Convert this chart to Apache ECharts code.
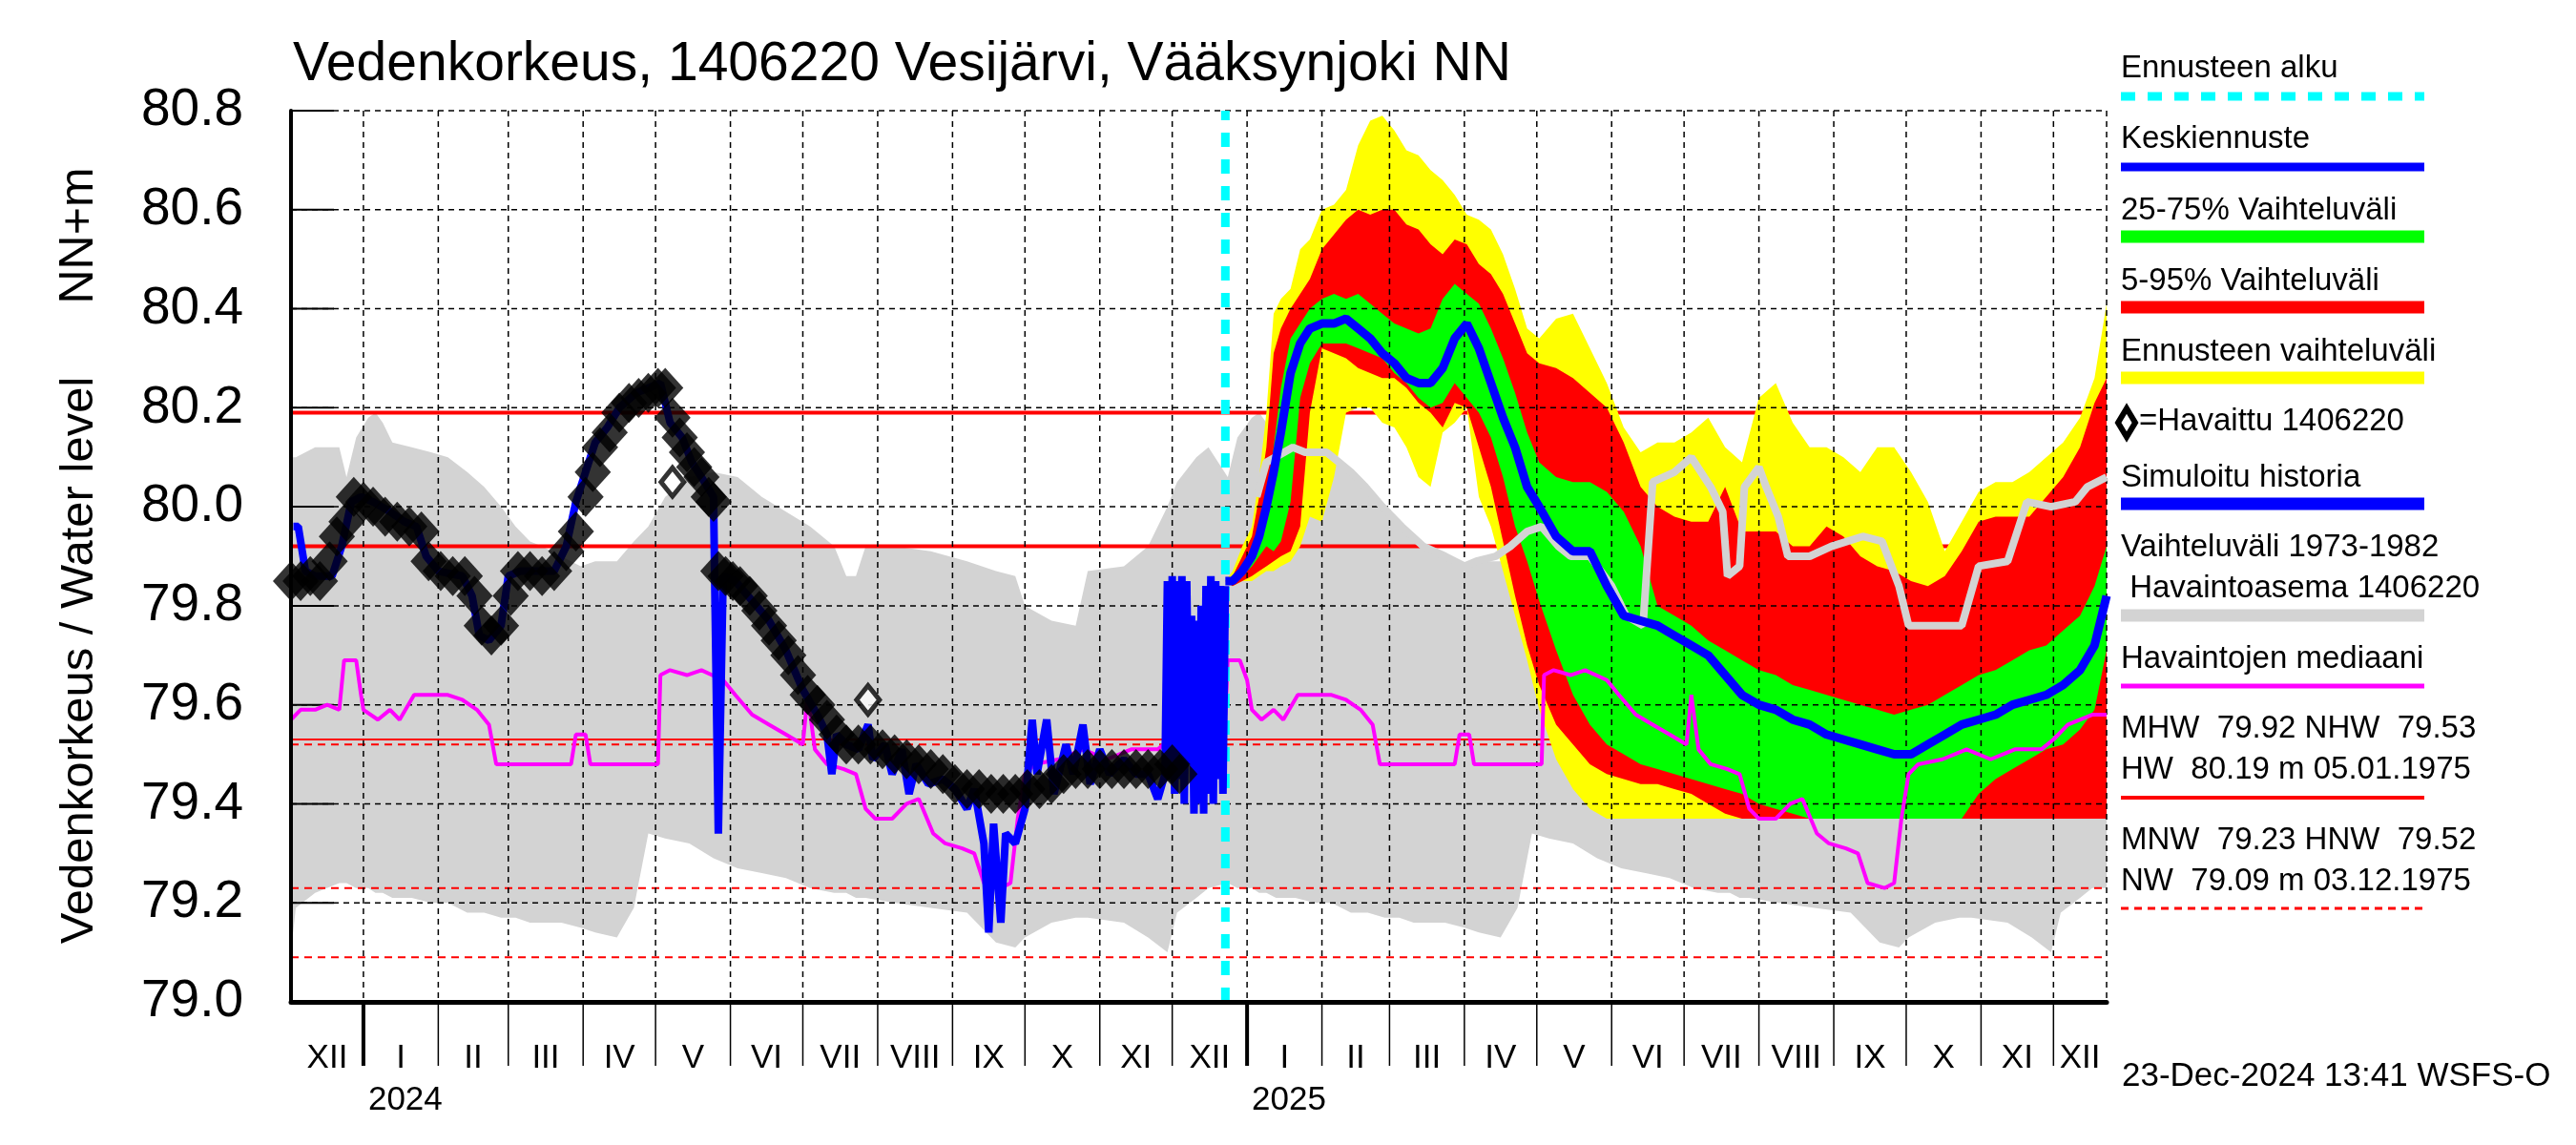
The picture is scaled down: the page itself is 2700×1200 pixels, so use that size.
<!DOCTYPE html>
<html><head><meta charset="utf-8">
<script src="https://cdn.jsdelivr.net/npm/echarts@6/dist/echarts.min.js"></script>
<style>html,body{margin:0;padding:0;background:#fff}#c{width:2700px;height:1200px}</style>
</head><body><div id="c"></div>
<script>
const FONT = '"Liberation Sans", Arial, Helvetica, sans-serif';
// All day numbers are days counted from 2024-01-01
const startDay = -30, endDay = 722, forecastDay = 357;
const yTicks = [79.0, 79.2, 79.4, 79.6, 79.8, 80.0, 80.2, 80.4, 80.6, 80.8];
const monthLabels = ['XII','I','II','III','IV','V','VI','VII','VIII','IX','X','XI','XII','I','II','III','IV','V','VI','VII','VIII','IX','X','XI','XII'];
const yearLabels = ['2024','2025'];

// Observed water level (Havaittu 1406220)
const obsDays = [-30,-26,-22,-18,-14,-11,-7,-4,0,4,9,14,19,24,27,32,37,42,46,49,53,57,61,64,69,74,79,84,88,92,95,98,102,106,110,114,118,122,125,128,131,134,137,140,143,145,147,150,153,156,160,164,168,172,176,180,184,188,192,196,200,205,210,215,220,225,230,235,240,245,250,255,260,265,270,275,280,285,290,295,300,305,310,315,320,325,330,335,338];
const obsVals = [79.85,79.85,79.86,79.85,79.89,79.94,79.97,80.02,80.01,80.00,79.98,79.97,79.96,79.95,79.89,79.87,79.86,79.86,79.82,79.76,79.74,79.76,79.82,79.87,79.87,79.86,79.87,79.91,79.95,80.02,80.07,80.12,80.15,80.19,80.21,80.22,80.23,80.24,80.24,80.18,80.14,80.11,80.08,80.06,80.02,80.01,79.87,79.86,79.85,79.84,79.82,79.79,79.76,79.73,79.70,79.66,79.62,79.60,79.57,79.54,79.52,79.52,79.52,79.51,79.50,79.49,79.48,79.47,79.46,79.44,79.43,79.43,79.42,79.42,79.42,79.43,79.43,79.44,79.46,79.47,79.47,79.47,79.47,79.47,79.47,79.47,79.47,79.48,79.46];
const obsOpenDays = [128, 209];
const obsOpenVals = [80.05, 79.61];

// Simulated history (Simuloitu historia)
const simDays = [-29,-27,-24,-20,-13,-9,-5,-1,4,11,17,22,26,31,41,45,48,52,57,60,65,79,84,88,92,96,101,106,113,123,127,132,136,140,145,147,149,154,161,168,175,182,188,192,194,196,200,205,209,211,216,219,223,226,229,234,240,245,250,253,257,259,261,264,266,270,274,277,279,283,286,291,294,298,301,305,309,315,320,325,329,332,333,334,335,336,337,338,339,340,341,342,343,344,345,346,347,348,349,350,351,352,353,354,355,356,357];
const simVals = [79.96,79.96,79.87,79.86,79.86,79.92,80.01,80.02,80.01,79.99,79.97,79.96,79.90,79.87,79.86,79.82,79.74,79.73,79.76,79.86,79.87,79.87,79.92,80.01,80.07,80.13,80.16,80.20,80.23,80.25,80.17,80.14,80.09,80.06,80.02,79.34,79.86,79.85,79.81,79.77,79.71,79.63,79.58,79.54,79.46,79.54,79.52,79.51,79.56,79.49,79.52,79.46,79.51,79.42,79.48,79.44,79.45,79.43,79.39,79.43,79.32,79.14,79.36,79.16,79.34,79.32,79.39,79.57,79.46,79.57,79.42,79.52,79.46,79.56,79.44,79.51,79.46,79.49,79.46,79.46,79.41,79.46,79.85,79.45,79.86,79.42,79.85,79.45,79.86,79.40,79.85,79.48,79.78,79.38,79.77,79.40,79.80,79.38,79.84,79.42,79.86,79.40,79.85,79.45,79.84,79.42,79.84,79.84];

// Forecast
const fcDays = [357,360,364,368,371,374,377,380,384,388,392,397,402,407,412,417,422,427,432,437,442,447,452,457,462,467,472,477,482,487,494,501,508,515,522,529,536,543,550,557,564,571,578,585,592,599,606,613,620,627,634,641,648,655,662,669,676,683,690,697,704,711,717,722];
const fcMax = [79.85,79.87,79.92,79.96,80.06,80.19,80.39,80.42,80.44,80.52,80.54,80.60,80.61,80.64,80.73,80.78,80.79,80.76,80.72,80.71,80.68,80.66,80.63,80.59,80.58,80.56,80.51,80.44,80.36,80.34,80.38,80.39,80.32,80.25,80.16,80.11,80.13,80.13,80.15,80.18,80.12,80.09,80.22,80.25,80.17,80.12,80.12,80.10,80.07,80.12,80.12,80.07,80.01,79.91,79.97,80.03,80.05,80.05,80.07,80.10,80.13,80.18,80.26,80.41];
const fcP95 = [79.85,79.86,79.90,79.94,80.02,80.12,80.31,80.36,80.40,80.43,80.46,80.52,80.55,80.58,80.60,80.59,80.60,80.60,80.57,80.56,80.53,80.51,80.54,80.53,80.49,80.47,80.43,80.37,80.31,80.29,80.28,80.26,80.23,80.20,80.13,80.04,80.00,79.98,79.97,79.97,80.04,79.95,79.95,79.95,79.92,79.92,79.96,79.94,79.90,79.88,79.87,79.85,79.84,79.86,79.91,79.97,79.98,79.98,79.98,80.02,80.06,80.12,80.21,80.26];
const fcP75 = [79.85,79.86,79.88,79.92,79.96,80.02,80.12,80.24,80.34,80.37,80.40,80.42,80.43,80.42,80.43,80.41,80.39,80.37,80.36,80.35,80.36,80.42,80.45,80.43,80.41,80.36,80.30,80.23,80.15,80.09,80.06,80.05,80.05,80.03,79.99,79.92,79.80,79.78,79.76,79.73,79.71,79.69,79.67,79.66,79.64,79.63,79.62,79.61,79.60,79.59,79.58,79.59,79.60,79.62,79.64,79.66,79.67,79.69,79.71,79.72,79.75,79.78,79.84,79.92];
const fcMed = [79.85,79.85,79.87,79.90,79.94,80.00,80.07,80.15,80.27,80.33,80.36,80.37,80.37,80.38,80.36,80.34,80.31,80.29,80.26,80.25,80.25,80.28,80.34,80.37,80.32,80.25,80.18,80.12,80.04,80.00,79.94,79.91,79.91,79.84,79.78,79.77,79.76,79.74,79.72,79.70,79.66,79.62,79.60,79.59,79.57,79.56,79.54,79.53,79.52,79.51,79.50,79.50,79.52,79.54,79.56,79.57,79.58,79.60,79.61,79.62,79.64,79.67,79.72,79.82];
const fcP25 = [79.85,79.85,79.86,79.88,79.90,79.92,79.91,79.93,80.01,80.22,80.29,80.33,80.33,80.33,80.32,80.31,80.30,80.27,80.25,80.22,80.20,80.21,80.25,80.22,80.19,80.14,80.06,79.96,79.89,79.81,79.71,79.62,79.56,79.52,79.50,79.48,79.47,79.46,79.45,79.44,79.43,79.42,79.40,79.39,79.38,79.37,79.37,79.37,79.37,79.37,79.37,79.37,79.37,79.37,79.37,79.42,79.45,79.47,79.49,79.51,79.52,79.55,79.59,79.71];
const fcP05 = [79.85,79.84,79.85,79.86,79.87,79.88,79.89,79.90,79.91,79.96,80.19,80.32,80.31,80.30,80.28,80.27,80.26,80.26,80.24,80.21,80.19,80.16,80.21,80.20,80.12,80.04,79.93,79.82,79.72,79.64,79.56,79.52,79.48,79.46,79.45,79.44,79.44,79.43,79.42,79.40,79.38,79.37,79.37,79.37,79.37,79.37,79.37,79.37,79.37,79.37,79.37,79.37,79.37,79.37,79.37,79.37,79.37,79.37,79.37,79.37,79.37,79.37,79.37,79.37];
const fcMin = [79.85,79.84,79.85,79.85,79.86,79.87,79.87,79.88,79.89,79.92,79.98,79.97,80.06,80.19,80.20,80.20,80.17,80.16,80.12,80.06,80.04,80.15,80.17,80.20,80.02,79.96,79.87,79.78,79.69,79.59,79.49,79.43,79.39,79.37,79.37,79.37,79.37,79.37,79.37,79.37,79.37,79.37,79.37,79.37,79.37,79.37,79.37,79.37,79.37,79.37,79.37,79.37,79.37,79.37,79.37,79.37,79.37,79.37,79.37,79.37,79.37,79.37,79.37,79.37];

// Light grey line inside forecast period
const lgDays = [370,374,385,390,399,404,409,415,422,430,439,448,456,461,469,475,482,488,495,500,508,517,523,530,534,543,550,558,563,565,570,572,578,581,586,590,599,608,621,629,636,640,650,662,669,681,689,699,709,714,722];
const lgVals = [80.02,80.09,80.12,80.11,80.11,80.09,80.07,80.04,80.00,79.96,79.92,79.90,79.88,79.89,79.90,79.92,79.95,79.96,79.92,79.90,79.90,79.84,79.78,79.76,80.05,80.07,80.10,80.04,79.99,79.86,79.88,80.04,80.08,80.04,79.98,79.90,79.90,79.92,79.94,79.93,79.84,79.76,79.76,79.76,79.88,79.89,80.01,80.00,80.01,80.04,80.06];

// Range 1973-1982 (grey band)
const rngDays = [-30,-28,-20,-10,-7,-3,2,5,8,12,20,28,35,43,50,57,63,69,74,82,90,96,105,112,118,125,135,145,155,165,175,185,195,200,204,208,220,235,250,262,270,274,285,295,300,315,325,333,337,345,350,358,362,368,371,374,378,386,394,401,409,416,423,429,435,440,448,456,462,471,478,484,491,501,511,521,531,541,551,561,566,570,574,586,601,616,628,636,640,651,661,666,681,691,699,703,711,716,722];
const rngHi = [80.10,80.10,80.12,80.12,80.06,80.14,80.18,80.19,80.17,80.13,80.12,80.11,80.10,80.07,80.04,80.00,79.96,79.93,79.92,79.90,79.88,79.89,79.89,79.93,79.96,80.02,80.06,80.07,80.06,80.02,79.99,79.96,79.92,79.86,79.86,79.92,79.92,79.91,79.89,79.87,79.86,79.80,79.77,79.76,79.87,79.88,79.92,80.00,80.05,80.10,80.12,80.06,80.14,80.18,80.19,80.17,80.13,80.12,80.11,80.10,80.07,80.04,80.00,79.96,79.93,79.92,79.90,79.88,79.89,79.89,79.93,79.96,80.02,80.06,80.07,80.06,80.02,79.99,79.96,79.92,79.86,79.86,79.92,79.92,79.91,79.89,79.87,79.86,79.80,79.77,79.76,79.87,79.88,79.92,80.00,80.05,80.10,80.12,80.12];
const rngLo = [79.10,79.19,79.22,79.24,79.24,79.23,79.23,79.22,79.22,79.21,79.21,79.20,79.20,79.18,79.18,79.17,79.17,79.16,79.16,79.16,79.15,79.14,79.13,79.19,79.34,79.33,79.32,79.29,79.27,79.26,79.25,79.23,79.22,79.22,79.21,79.21,79.20,79.19,79.18,79.12,79.11,79.13,79.16,79.17,79.17,79.16,79.13,79.10,79.18,79.21,79.23,79.24,79.23,79.23,79.22,79.22,79.21,79.21,79.20,79.20,79.18,79.18,79.17,79.17,79.16,79.16,79.16,79.15,79.14,79.13,79.19,79.34,79.33,79.32,79.29,79.27,79.26,79.25,79.23,79.22,79.22,79.21,79.21,79.20,79.19,79.18,79.12,79.11,79.13,79.16,79.17,79.17,79.16,79.13,79.10,79.18,79.21,79.23,79.23];

// Median of observations (Havaintojen mediaani)
const magDays = [-30,-26,-20,-15,-10,-8,-3,-1,0,6,11,15,21,28,35,41,47,52,55,86,88,92,94,122,123,127,134,140,149,154,161,168,175,182,184,187,192,199,204,208,212,219,225,230,236,241,248,253,257,264,268,271,274,278,288,298,308,318,329,334,340,350,357,358,363,366,368,372,377,381,387,394,401,407,413,418,421,452,454,458,460,488,489,493,500,506,515,520,527,534,541,548,550,553,558,565,570,574,578,585,591,596,602,607,614,619,623,630,634,637,640,644,654,664,674,684,695,700,706,716,722];
const magVals = [79.57,79.59,79.59,79.60,79.59,79.69,79.69,79.62,79.59,79.57,79.59,79.57,79.62,79.62,79.62,79.61,79.59,79.56,79.48,79.48,79.54,79.54,79.48,79.48,79.66,79.67,79.66,79.67,79.65,79.62,79.58,79.56,79.54,79.52,79.62,79.51,79.48,79.47,79.46,79.39,79.37,79.37,79.40,79.41,79.34,79.32,79.31,79.30,79.24,79.23,79.24,79.37,79.46,79.48,79.49,79.51,79.49,79.51,79.51,79.53,79.56,79.58,79.58,79.69,79.69,79.65,79.59,79.57,79.59,79.57,79.62,79.62,79.62,79.61,79.59,79.56,79.48,79.48,79.54,79.54,79.48,79.48,79.66,79.67,79.66,79.67,79.65,79.62,79.58,79.56,79.54,79.52,79.62,79.51,79.48,79.47,79.46,79.39,79.37,79.37,79.40,79.41,79.34,79.32,79.31,79.30,79.24,79.23,79.24,79.37,79.46,79.48,79.49,79.51,79.49,79.51,79.51,79.53,79.56,79.58,79.58];

// Reference levels
const refHW = 80.19, refMHW = 79.92, refNHW = 79.53, refHNW = 79.52, refMNW = 79.23, refNW = 79.09;

// ---------- helpers ----------
const DAY = 86400000, T0 = Date.UTC(2024, 0, 1);
const t = d => T0 + d * DAY;
const xMin = t(startDay), xMax = t(endDay), tFc = t(forecastDay);
const pts = (days, vals) => days.map((d, i) => [t(d), vals[i]]);

function band(name, days, lo, hi, color, z) {
  return {
    type: 'custom', name, z, silent: true, clip: true,
    data: days.map((d, i) => [t(d), lo[i], hi[i]]),
    encode: { x: 0, y: [1, 2] },
    renderItem(params, api) {
      if (params.dataIndex !== 0) return null;
      const up = [], dn = [];
      for (let i = 0; i < days.length; i++) {
        up.push(api.coord([t(days[i]), hi[i]]));
        dn.push(api.coord([t(days[i]), lo[i]]));
      }
      return { type: 'polygon', shape: { points: up.concat(dn.reverse()) }, style: { fill: color } };
    }
  };
}
function refLine(v, w, dash, z) {
  return { type: 'line', silent: true, z, symbol: 'none', data: [[xMin, v], [xMax, v]],
    lineStyle: { color: '#ff0000', width: w, type: dash || 'solid' }, animation: false };
}

// month segments
const monthSeg = [];
for (let k = 0; k < monthLabels.length; k++) {
  const s = Date.UTC(2023, 11 + k, 1), e = Date.UTC(2023, 12 + k, 1);
  monthSeg.push([Math.max(s, xMin), Math.min(e, xMax), k]);
}
let yearIdx = 0;
const yearOf = {};
monthSeg.forEach(m => { if (new Date(m[0]).getUTCMonth() === 0 && m[0] > xMin) { yearOf[m[2]] = yearLabels[yearIdx++]; } });

const series = [
  band('Vaihteluväli 1973-1982', rngDays, rngLo, rngHi, '#d3d3d3', 2),
  refLine(refHW, 4, null, 3), refLine(refMHW, 4, null, 3), refLine(refNHW, 2, null, 3),
  refLine(refHNW, 2, [8, 6], 3), refLine(refMNW, 2, [8, 6], 3), refLine(refNW, 2, [8, 6], 3),
  band('Ennusteen vaihteluväli', fcDays, fcMin, fcMax, '#ffff00', 4),
  band('5-95% Vaihteluväli', fcDays, fcP05, fcP95, '#ff0000', 5),
  band('25-75% Vaihteluväli', fcDays, fcP25, fcP75, '#00ff00', 6),
  { // month grid, ticks, labels
    type: 'custom', z: 7, silent: true, clip: false,
    data: monthSeg, encode: { x: [0, 1] },
    renderItem(params, api) {
      const s = api.value(0), e = api.value(1), k = api.value(2);
      const pT = api.coord([s, 80.8]), pB = api.coord([s, 79.0]), pE = api.coord([e, 79.0]);
      const ch = [];
      if (s > xMin) {
        const jan = new Date(s).getUTCMonth() === 0;
        ch.push({ type: 'line', shape: { x1: pT[0], y1: pT[1], x2: pB[0], y2: pB[1] }, style: { stroke: '#000', lineWidth: 1.5, lineDash: [6, 5] } });
        ch.push({ type: 'line', shape: { x1: pB[0], y1: pB[1], x2: pB[0], y2: pB[1] + 67 }, style: { stroke: '#000', lineWidth: jan ? 4 : 1.5 } });
        if (jan && yearOf[k]) ch.push({ type: 'text', style: { text: yearOf[k], x: pB[0] + 5, y: pB[1] + 103, font: '35px ' + FONT, fill: '#000', align: 'left', verticalAlign: 'middle' } });
      }
      if (e >= xMax) {
        const q = api.coord([e, 80.8]);
        ch.push({ type: 'line', shape: { x1: q[0], y1: q[1], x2: pE[0], y2: pE[1] }, style: { stroke: '#000', lineWidth: 1.5, lineDash: [6, 5] } });
      }
      ch.push({ type: 'text', style: { text: monthLabels[k], x: (pB[0] + pE[0]) / 2, y: pB[1] + 59, font: '35px ' + FONT, fill: '#000', align: 'center', verticalAlign: 'middle' } });
      return { type: 'group', children: ch };
    }
  },
  { // horizontal grid + inner ticks
    type: 'custom', z: 7, silent: true, clip: false,
    data: yTicks.map(v => [xMin, v]), encode: { x: 0, y: 1 },
    renderItem(params, api) {
      const v = api.value(1);
      if (v <= 79.0) return null;
      const a = api.coord([xMin, v]), b = api.coord([xMax, v]);
      return { type: 'group', children: [
        { type: 'line', shape: { x1: a[0], y1: a[1], x2: b[0], y2: b[1] }, style: { stroke: '#000', lineWidth: 1.5, lineDash: [6, 5] } },
        { type: 'line', shape: { x1: a[0], y1: a[1], x2: a[0] + 45, y2: a[1] }, style: { stroke: '#000', lineWidth: 2 } }
      ] };
    }
  },
  { type: 'line', z: 8, silent: true, symbol: 'none', data: pts(lgDays, lgVals), lineStyle: { color: '#d3d3d3', width: 8 } },
  { type: 'line', name: 'Havaintojen mediaani', z: 9, silent: true, symbol: 'none', data: pts(magDays, magVals), lineStyle: { color: '#ff00ff', width: 4 } },
  { type: 'line', name: 'Ennusteen alku', z: 10, silent: true, symbol: 'none', data: [[tFc, 79.0], [tFc, 80.8]], lineStyle: { color: '#00ffff', width: 9, type: [15, 13] } },
  { type: 'line', name: 'Simuloitu historia', z: 11, silent: true, symbol: 'none', data: pts(simDays, simVals), lineStyle: { color: '#0000ff', width: 8 } },
  { type: 'line', name: 'Keskiennuste', z: 11, silent: true, symbol: 'none', data: pts(fcDays, fcMed), lineStyle: { color: '#0000ff', width: 9 } },
  { type: 'scatter', name: 'Havaittu', z: 12, silent: true, clip: false, symbol: 'diamond', symbolSize: [38, 42], data: pts(obsDays, obsVals), itemStyle: { color: '#000' } },
  { type: 'scatter', z: 12, silent: true, clip: false, symbol: 'diamond', symbolSize: [24, 30], data: pts(obsOpenDays, obsOpenVals), itemStyle: { color: '#fff', borderColor: '#000', borderWidth: 5 } }
];

// legend graphics
const LX = 2223, LX2 = 2541;
const legend = [
  { text: 'Ennusteen alku', y: 83, line: { y: 101, c: '#00ffff', w: 9, dash: [15, 13] } },
  { text: 'Keskiennuste', y: 157, line: { y: 175, c: '#0000ff', w: 9 } },
  { text: '25-75% Vaihteluväli', y: 232, line: { y: 248, c: '#00ff00', w: 13 } },
  { text: '5-95% Vaihteluväli', y: 306, line: { y: 322, c: '#ff0000', w: 13 } },
  { text: 'Ennusteen vaihteluväli', y: 380, line: { y: 396, c: '#ffff00', w: 13 } },
  { text: '=Havaittu 1406220', y: 453, x: 2242, diamond: true },
  { text: 'Simuloitu historia', y: 512, line: { y: 528, c: '#0000ff', w: 13 } },
  { text: 'Vaihteluväli 1973-1982', y: 585 },
  { text: ' Havaintoasema 1406220', y: 628, line: { y: 645, c: '#d3d3d3', w: 13 } },
  { text: 'Havaintojen mediaani', y: 702, line: { y: 719, c: '#ff00ff', w: 5 } },
  { text: 'MHW  79.92 NHW  79.53', y: 775 },
  { text: 'HW  80.19 m 05.01.1975', y: 818, line: { y: 836, c: '#ff0000', w: 4 } },
  { text: 'MNW  79.23 HNW  79.52', y: 892 },
  { text: 'NW  79.09 m 03.12.1975', y: 935, line: { y: 952, c: '#ff0000', w: 3, dash: [8, 6] } }
];
const graphics = [];
legend.forEach(it => {
  graphics.push({ type: 'text', x: it.x || LX, y: it.y - 11.4, style: { text: it.text, font: '33px ' + FONT, fill: '#000', align: 'left', verticalAlign: 'middle' } });
  if (it.line) graphics.push({ type: 'line', shape: { x1: LX, y1: it.line.y, x2: LX2, y2: it.line.y }, style: { stroke: it.line.c, lineWidth: it.line.w, lineDash: it.line.dash || null } });
  if (it.diamond) graphics.push({ type: 'polygon', shape: { points: [[2229, 428], [2238, 443], [2229, 458], [2220, 443]] }, style: { fill: '#fff', stroke: '#000', lineWidth: 6 } });
});
graphics.push({ type: 'text', x: 307, y: 68, style: { text: 'Vedenkorkeus, 1406220 Vesijärvi, Vääksynjoki NN', font: '57px ' + FONT, fill: '#000', align: 'left', verticalAlign: 'middle' } });
graphics.push({ type: 'text', x: 83, y: 692, rotation: Math.PI / 2, style: { text: 'Vedenkorkeus / Water level', font: '49px ' + FONT, fill: '#000', align: 'center', verticalAlign: 'middle' } });
graphics.push({ type: 'text', x: 83, y: 247, rotation: Math.PI / 2, style: { text: 'NN+m', font: '50px ' + FONT, fill: '#000', align: 'center', verticalAlign: 'middle' } });
graphics.push({ type: 'text', x: 2224, y: 1128, style: { text: '23-Dec-2024 13:41 WSFS-O', font: '35px ' + FONT, fill: '#000', align: 'left', verticalAlign: 'middle' } });

const chart = echarts.init(document.getElementById('c'), null, { renderer: 'canvas', width: 2700, height: 1200 });
chart.setOption({
  animation: false,
  backgroundColor: '#fff',
  grid: { left: 305, right: 492, top: 116, bottom: 150, containLabel: false },
  xAxis: { type: 'time', min: xMin, max: xMax, z: 20,
    axisLine: { show: true, lineStyle: { color: '#000', width: 5 } },
    axisTick: { show: false }, axisLabel: { show: false }, splitLine: { show: false } },
  yAxis: { type: 'value', min: 79.0, max: 80.8, interval: 0.2, z: 20,
    axisLine: { show: true, lineStyle: { color: '#000', width: 4 } },
    axisTick: { show: false }, splitLine: { show: false },
    axisLabel: { formatter: v => v.toFixed(1), fontSize: 55, fontFamily: FONT, color: '#000', margin: 50 } },
  graphic: graphics,
  series
});
</script></body></html>
